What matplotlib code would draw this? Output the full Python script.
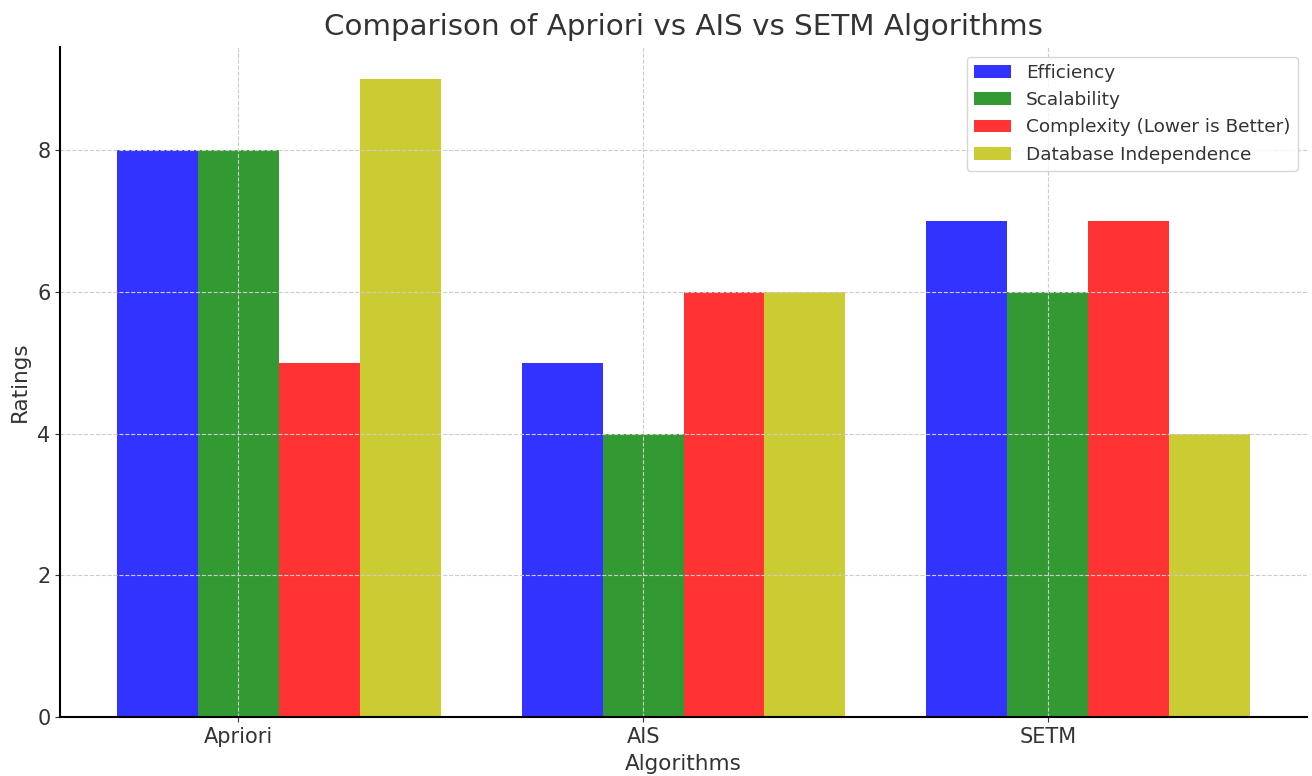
import matplotlib.pyplot as plt
import numpy as np

algoritmos = ['Apriori', 'AIS', 'SETM']
eficiencia = [8, 5, 7]
escalabilidad = [8, 4, 6]
complejidad = [5, 6, 7]
independencia = [9, 6, 4]

plt.rcParams['text.color'] = '#333333'
plt.rcParams['axes.labelcolor'] = '#333333'
plt.rcParams['xtick.color'] = '#333333'
plt.rcParams['ytick.color'] = '#333333'

x = np.arange(len(algoritmos))
ancho = 0.2

fig, ax = plt.subplots(figsize=(13.12, 7.76), dpi=100)
fig.subplots_adjust(left=0.046, right=0.996, top=0.939, bottom=0.076)

ax.bar(x - ancho, eficiencia, ancho, label='Efficiency', color='blue', alpha=0.8)
ax.bar(x, escalabilidad, ancho, label='Scalability', color='green', alpha=0.8)
ax.bar(x + ancho, complejidad, ancho, label='Complexity (Lower is Better)', color='red', alpha=0.8)
ax.bar(x + 2 * ancho, independencia, ancho, label='Database Independence', color='y', alpha=0.8)

ax.set_title('Comparison of Apriori vs AIS vs SETM Algorithms', fontsize=21.2, pad=9)
ax.set_xlabel('Algorithms', fontsize=15.5, labelpad=5)
ax.set_ylabel('Ratings', fontsize=15.5, labelpad=5)
ax.set_xticks(x)
ax.set_xticklabels(algoritmos)
ax.set_yticks([0, 2, 4, 6, 8])
ax.tick_params(labelsize=15)
ax.grid(True, linestyle='--', color='#cccccc', linewidth=0.8)
ax.spines['top'].set_visible(False)
ax.spines['right'].set_visible(False)
ax.spines['left'].set_linewidth(1.5)
ax.spines['bottom'].set_linewidth(1.5)
ax.legend(fontsize=13.3, loc='upper right')

plt.savefig('out.png')
